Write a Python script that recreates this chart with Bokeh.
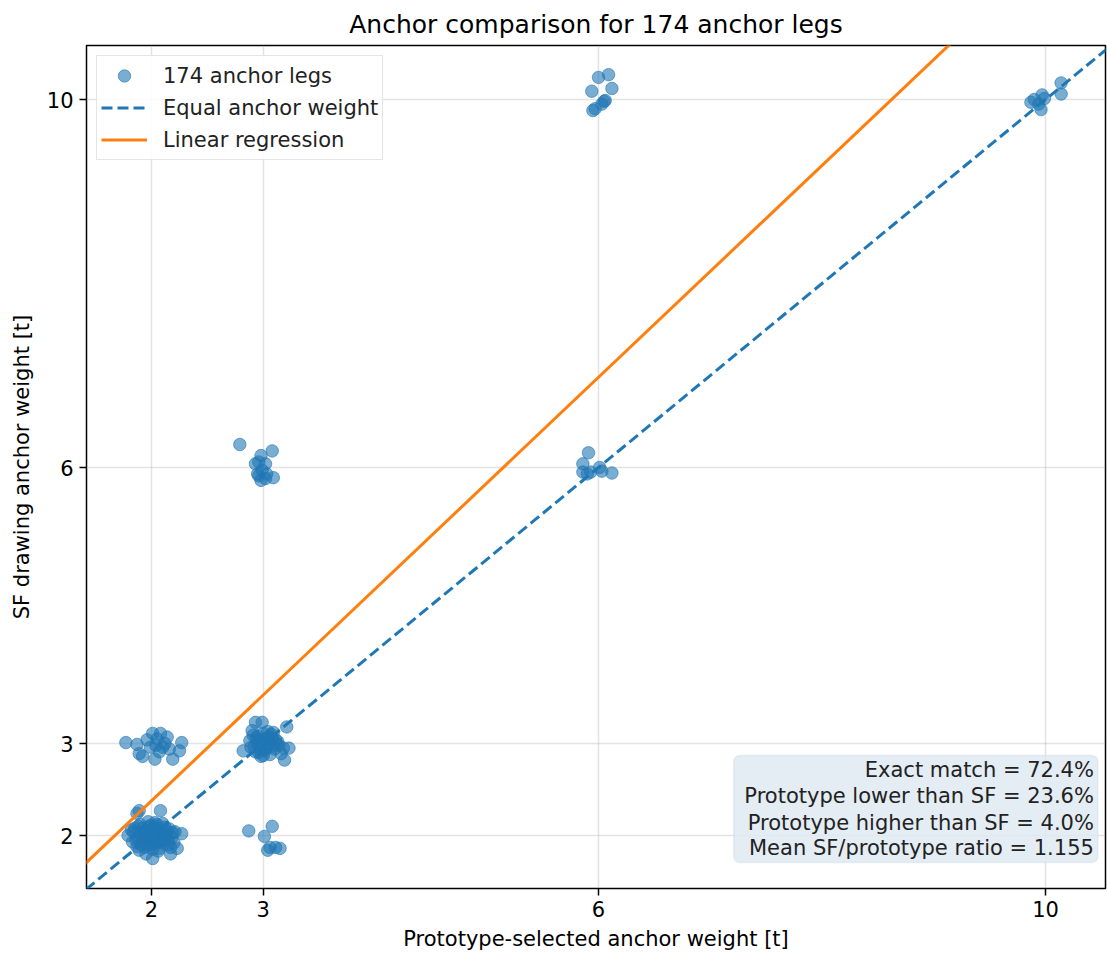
from bokeh.plotting import figure
from bokeh.models import Range1d, FixedTicker, Legend, LegendItem, Label, ColumnDataSource, BoxAnnotation
from bokeh.embed import file_html
from bokeh.resources import INLINE

# ---- data ----
x22 = [1.79,1.83,1.87,1.89,1.95,2.01,2.08,2.17,2.23,2.27,
       1.85,1.90,1.93,1.97,2.00,2.03,2.06,2.10,2.13,2.16,
       1.86,1.91,1.94,1.98,2.02,2.05,2.09,2.12,2.15,2.19,
       1.84,1.88,1.92,1.96,1.99,2.04,2.07,2.11,2.14,2.18,
       1.87,1.90,1.95,1.98,2.01,2.04,2.08,2.11,2.15,2.20,
       1.82,1.89,1.93,1.97,2.02,2.06,2.10,2.13,2.17,2.21,
       1.88,1.92,1.96,2.00,2.03,2.07,2.12,1.94,2.05,1.99]
y22 = [2.00,1.93,2.24,2.27,1.80,1.75,2.27,1.80,1.86,2.02,
       2.08,2.12,2.04,2.15,1.97,2.10,2.05,2.13,1.99,2.07,
       1.95,1.90,1.98,2.02,2.06,1.92,1.96,2.09,1.94,2.03,
       2.04,1.97,2.08,1.89,2.11,2.00,1.86,1.91,2.05,1.98,
       1.88,2.03,1.93,1.99,1.85,2.07,2.01,1.95,1.90,1.92,
       2.06,1.84,2.01,2.09,1.92,1.83,1.97,2.02,1.87,2.04,
       2.10,1.95,2.05,1.90,2.14,1.94,1.99,1.87,2.12,2.00]
x33 = [2.82,2.93,2.99,3.18,3.19,3.23,3.21,3.09,2.90,3.00,
       2.88,2.92,2.95,2.97,3.01,3.04,3.07,3.10,3.13,3.16,
       2.89,2.94,2.96,2.99,3.02,3.05,3.08,3.11,3.14,2.91,
       2.93,2.97,3.00,3.03,3.06,3.12,2.95,3.04,3.08,2.98]
y33 = [2.92,3.23,3.23,2.95,2.82,2.95,3.18,3.12,3.14,2.87,
       3.03,2.97,3.08,2.93,3.05,2.99,3.10,2.94,3.02,2.89,
       2.96,3.06,2.90,3.01,2.93,3.07,2.97,3.04,2.98,3.09,
       2.91,3.03,3.11,2.95,2.88,3.00,3.00,3.13,3.05,2.86]
x23 = [1.77,1.87,1.89,1.92,2.01,2.05,2.04,2.03,2.14,2.16,
       2.19,2.27,2.25,2.10,1.99,2.08,2.07,1.96,2.12]
y23 = [3.01,2.99,2.89,2.86,3.11,3.05,2.98,2.83,3.07,2.94,
       2.83,3.01,2.92,2.96,2.96,3.11,2.91,3.04,3.00]
x36 = [2.79,3.08,2.98,2.96,2.93,3.02,2.99,2.95,2.98,3.09,3.03,2.96,3.02]
y36 = [6.25,6.18,6.13,6.06,6.04,6.04,5.97,5.93,5.86,5.89,5.93,5.91,5.88]
x610 = [6.00,6.09,5.94,6.12,6.06,6.03,5.97,5.95,6.05]
y610 = [10.24,10.27,10.09,10.12,9.99,9.95,9.90,9.88,9.98]
x66 = [5.91,5.86,5.86,5.90,6.01,6.03,6.12,5.93]
y66 = [6.16,6.04,5.95,5.93,6.00,5.96,5.94,5.95]
x1010 = [10.14,10.14,9.90,9.97,9.99,9.94,9.96,9.87]
y1010 = [10.18,10.06,10.00,10.05,10.01,9.95,9.89,9.97]
x32 = [2.87,3.01,3.08,3.06,3.04,3.11,3.15]
y32 = [2.05,1.99,2.10,1.87,1.84,1.87,1.86]

tick_values = [2, 3, 6, 10]
reg_slope = 1.151
reg_intercept = 0.075
stats_lines = ["Exact match = 72.4%",
               "Prototype lower than SF = 23.6%",
               "Prototype higher than SF = 4.0%",
               "Mean SF/prototype ratio = 1.155"]
n_legs = 174

xs = x22 + x33 + x23 + x36 + x610 + x66 + x1010 + x32
ys = y22 + y33 + y23 + y36 + y610 + y66 + y1010 + y32

x_lo, x_hi = 1.418, 10.537
y_lo, y_hi = 1.424, 10.587

FONT = "DejaVu Sans"

p = figure(width=1107, height=955, output_backend="svg", toolbar_location=None,
           x_range=Range1d(x_lo, x_hi), y_range=Range1d(y_lo, y_hi),
           min_border_left=86, min_border_right=2, min_border_top=45, min_border_bottom=67,
           title="Anchor comparison for %d anchor legs" % n_legs)
p.title.align = "center"
p.title.text_font = FONT
p.title.text_font_size = "25px"
p.title.text_font_style = "normal"
p.title.text_color = "black"
p.title.standoff = 13

p.outline_line_color = "black"
p.outline_line_width = 1.5
p.outline_line_alpha = 1.0

for ax in (p.xaxis, p.yaxis):
    ax.ticker = FixedTicker(ticks=tick_values)
    ax.axis_line_color = None
    ax.major_tick_in = 0
    ax.major_tick_out = 7
    ax.major_tick_line_width = 1.5
    ax.major_tick_line_color = "black"
    ax.minor_tick_line_color = None
    ax.major_label_text_font = FONT
    ax.major_label_text_font_size = "21px"
    ax.major_label_text_color = "black"
    ax.axis_label_text_font = FONT
    ax.axis_label_text_font_size = "21px"
    ax.axis_label_text_font_style = "normal"
    ax.axis_label_text_color = "black"
    ax.major_label_standoff = 6

p.xaxis.axis_label = "Prototype-selected anchor weight [t]"
p.yaxis.axis_label = "SF drawing anchor weight [t]"
p.xaxis.major_label_standoff = 5
p.xaxis.axis_label_standoff = 7
p.yaxis.axis_label_standoff = 10

p.xgrid.ticker = FixedTicker(ticks=tick_values)
p.ygrid.ticker = FixedTicker(ticks=tick_values)
p.grid.grid_line_color = "#b0b0b0"
p.grid.grid_line_alpha = 0.35
p.grid.grid_line_width = 1.5

src = ColumnDataSource(dict(x=xs, y=ys))
r_pts = p.scatter("x", "y", source=src, size=12.5, fill_color="#1f77b4",
                  fill_alpha=0.6, line_color="#1f77b4", line_alpha=0.6, line_width=1)

line_x = [x_lo - 1, x_hi + 1]
r_eq = p.line(line_x, line_x, line_color="#1f77b4", line_width=3, line_dash="11 5")
r_reg = p.line(line_x, [reg_slope * v + reg_intercept for v in line_x],
               line_color="#ff7f0e", line_width=3)

legend = Legend(items=[LegendItem(label="%d anchor legs" % n_legs, renderers=[r_pts]),
                       LegendItem(label="Equal anchor weight", renderers=[r_eq]),
                       LegendItem(label="Linear regression", renderers=[r_reg])],
                location="top_left")
legend.label_text_font = FONT
legend.label_text_font_size = "21px"
legend.label_text_color = "#222222"
legend.glyph_width = 46
legend.glyph_height = 31
legend.label_height = 26
legend.spacing = 1
legend.padding = 4
legend.margin = 10
legend.label_standoff = 16
legend.border_line_color = "#cccccc"
legend.border_line_width = 1.5
legend.background_fill_alpha = 0.85
p.add_layout(legend)

# stats box (annotation)
box = BoxAnnotation(left=7.21, right=10.469, bottom=1.707, top=2.87,
                    fill_color="#dfe9f2", fill_alpha=0.85,
                    line_color="#c3d1de", line_width=1.5, border_radius=6)
p.add_layout(box)
line_y = [2.707, 2.424, 2.141, 1.859]
for txt, yy in zip(stats_lines, line_y):
    p.add_layout(Label(x=10.433, y=yy, text=txt, text_align="right", text_baseline="middle",
                       text_font=FONT, text_font_size="21px", text_color="#222222"))

open("out.html", "w").write(file_html(p, INLINE))
